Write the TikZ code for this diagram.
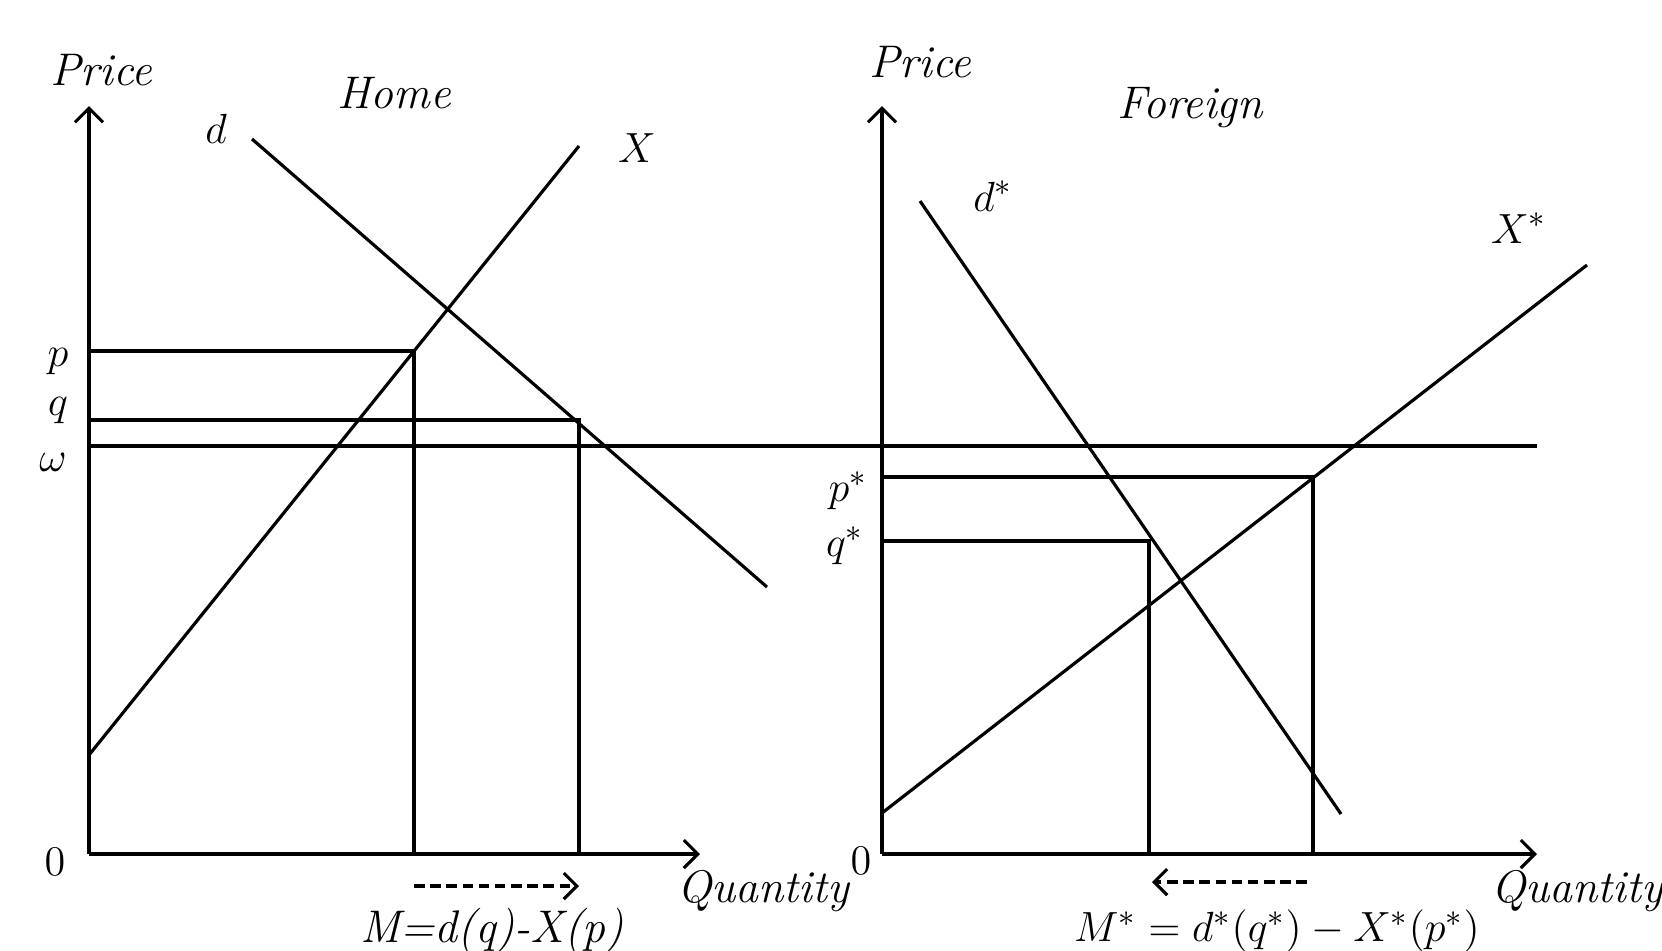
\documentclass[tikz,border=0pt]{standalone}
\usetikzlibrary{arrows.meta}
\begin{document}
\begin{tikzpicture}[x=0.01cm,y=-0.01cm,line width=0.9pt,
  lbl/.style={font=\fontsize{13}{15}\selectfont\itshape,inner sep=0pt},
  mlbl/.style={font=\fontsize{13}{15}\selectfont,inner sep=0pt},
  axis/.style={-{Straight Barb[length=1.4mm,width=2.8mm]}},
  dasharrow/.style={dash pattern=on 3pt off 1.6pt,-{Straight Barb[length=1.3mm,width=2.6mm]}}]
\useasboundingbox (0,0) rectangle (1662,950);
% Home panel
\coordinate (O1) at (89,854);
\coordinate (Y1) at (89,106);
\coordinate (X1) at (700,854);
\coordinate (Xs) at (89,755);
\coordinate (Xe) at (579,146);
\coordinate (ds) at (252,139);
\coordinate (de) at (767,587);
\coordinate (pA) at (89,351);
\coordinate (pB) at (414,351);
\coordinate (pC) at (414,854);
\coordinate (qA) at (89,420);
\coordinate (qB) at (579,420);
\coordinate (qC) at (579,854);
\coordinate (wA) at (89,446);
\coordinate (wB) at (1537,446);
\coordinate (m1s) at (414,886);
\coordinate (m1e) at (579,886);
\draw[axis] (O1) -- (Y1);
\draw[axis] (O1) -- (X1);
\draw (Xs) -- (Xe);
\draw (ds) -- (de);
\draw (pA) -- (pB) -- (pC);
\draw (qA) -- (qB) -- (qC);
\draw (wA) -- (wB);
\draw[dasharrow] (m1s) -- (m1e);
\node[lbl] (price1) at (101,70) {Price};
\node[lbl] (home) at (394,93) {Home};
\node[mlbl] (dlab) at (216,129) {$d$};
\node[mlbl] (Xlab) at (637,148) {$X$};
\node[mlbl] (plab) at (58,362) {$p$};
\node[mlbl] (qlab) at (58,411) {$q$};
\node[mlbl] (wlab) at (53,462) {$\omega$};
\node[mlbl] (zero1) at (55,862) {$0$};
\node[lbl] (quant1) at (763,891) {Quantity};
\node[lbl] (M1) at (492,931) {M=d(q)-X(p)};
% Foreign panel
\coordinate (O2) at (882,854);
\coordinate (Y2) at (882,106);
\coordinate (X2) at (1537,854);
\coordinate (dss) at (920,201);
\coordinate (dse) at (1341,814);
\coordinate (Xss) at (882,813);
\coordinate (Xse) at (1587,265);
\coordinate (psA) at (882,477);
\coordinate (psB) at (1313,477);
\coordinate (psC) at (1313,854);
\coordinate (qsA) at (882,541);
\coordinate (qsB) at (1149,541);
\coordinate (qsC) at (1149,854);
\coordinate (m2s) at (1307,882);
\coordinate (m2e) at (1152,882);
\draw[axis] (O2) -- (Y2);
\draw[axis] (O2) -- (X2);
\draw (dss) -- (dse);
\draw (Xss) -- (Xse);
\draw (psA) -- (psB) -- (psC);
\draw (qsA) -- (qsB) -- (qsC);
\draw[dasharrow] (m2s) -- (m2e);
\node[lbl] (price2) at (920,62) {Price};
\node[lbl] (foreign) at (1190,108) {Foreign};
\node[mlbl] (dslab) at (993,196) {$d^*$};
\node[mlbl] (Xslab) at (1519,228) {$X^*$};
\node[mlbl] (pslab) at (848,491) {$p^*$};
\node[mlbl] (qslab) at (845,546) {$q^*$};
\node[mlbl] (zero2) at (861,861) {$0$};
\node[lbl] (quant2) at (1577,891) {Quantity};
\node[mlbl] (M2) at (1277,931) {$M^* = d^*(q^*) - X^*(p^*)$};
\end{tikzpicture}
\end{document}
